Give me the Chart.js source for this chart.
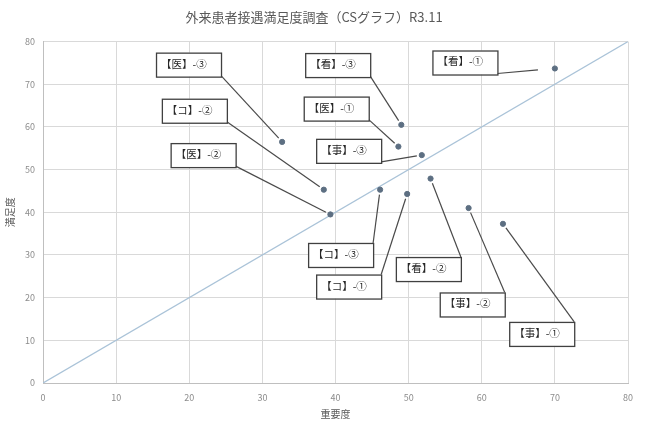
<!DOCTYPE html>
<html>
<head>
<meta charset="utf-8">
<script src="https://cdn.jsdelivr.net/npm/chart.js@4"></script>
<style>
  html, body { margin: 0; padding: 0; background: #ffffff; }
  #wrap { width: 650px; height: 424px; }
</style>
</head>
<body>
<div id="wrap"><canvas id="c" width="650" height="424"></canvas></div>
<script>
// ---- data ----
const categories = ['【事】-①','【事】-②','【事】-③','【医】-①','【医】-②','【医】-③','【看】-①','【看】-②','【看】-③','【コ】-①','【コ】-②','【コ】-③'];
const importance = [62.9, 58.2, 51.8, 48.6, 39.3, 32.7, 70.0, 53.0, 49.0, 49.8, 38.4, 46.1];
const satisfaction = [37.3, 41.0, 53.4, 55.4, 39.5, 56.5, 73.7, 47.9, 60.5, 44.3, 45.3, 45.3];
const refLineX = [0, 80];
const refLineY = [0, 80];
const tickValues = [0, 10, 20, 30, 40, 50, 60, 70, 80];
const chartTitle = '外来患者接遇満足度調査（CSグラフ）R3.11';
const xTitle = '重要度';
const yTitle = '満足度';

// ---- label box placement (data coordinates of box centres) ----
const labelBoxX = [68.2, 58.7, 41.8, 40.1, 21.9, 19.9, 57.7, 52.7, 40.3, 41.8, 20.7, 40.7];
const labelBoxY = [11.5, 18.4, 54.4, 64.3, 53.4, 74.6, 75.1, 26.7, 74.5, 22.6, 63.8, 30.0];
const labelAnchor = ['tr','tr','br','br','br','br','br','tr','br','tr','br','tr'];
const labelGap = [5, 5, 5, 5, 5, 5, 17, 5, 5, 5, 5, 5];

const FONT = '"Noto Sans CJK JP", "Noto Sans", sans-serif';

const labelPlugin = {
  id: 'calloutLabels',
  afterDatasetsDraw(chart) {
    const ctx = chart.ctx;
    const xs = chart.scales.x, ys = chart.scales.y;
    const bw = 65, bh = 24;
    ctx.save();
    for (let i = 0; i < categories.length; i++) {
      const px = xs.getPixelForValue(importance[i]);
      const py = ys.getPixelForValue(satisfaction[i]);
      const cx = xs.getPixelForValue(labelBoxX[i]);
      const cy = ys.getPixelForValue(labelBoxY[i]);
      const l = cx - bw / 2, t = cy - bh / 2;
      const a = labelAnchor[i];
      const sx = a.includes('r') ? l + bw : l;
      const sy = a.includes('b') ? t + bh - 1 : t;
      const dx = px - sx, dy = py - sy;
      const d = Math.hypot(dx, dy);
      const g = labelGap[i];
      const ex = px - dx / d * g, ey = py - dy / d * g;
      ctx.strokeStyle = '#4a4a4a';
      ctx.lineWidth = 1.2;
      ctx.beginPath();
      ctx.moveTo(sx, sy);
      ctx.lineTo(ex, ey);
      ctx.stroke();
      ctx.fillStyle = '#ffffff';
      ctx.fillRect(l, t, bw, bh);
      ctx.strokeStyle = '#404040';
      ctx.lineWidth = 1.3;
      ctx.strokeRect(l + 0.5, t + 0.5, bw, bh);
      ctx.fillStyle = '#262626';
      ctx.font = '10.5px ' + FONT;
      ctx.textAlign = 'left';
      ctx.textBaseline = 'middle';
      ctx.fillText(categories[i], l + 5, t + bh / 2 - 1);
    }
    ctx.restore();
  }
};

const points = importance.map((v, i) => ({ x: v, y: satisfaction[i] }));
const diag = refLineX.map((v, i) => ({ x: v, y: refLineY[i] }));

new Chart(document.getElementById('c'), {
  type: 'scatter',
  data: {
    datasets: [
      {
        label: 'points',
        data: points,
        backgroundColor: '#5d6f82',
        borderColor: '#5d6f82',
        pointRadius: 2.6,
        pointHoverRadius: 2.6,
        order: 1
      },
      {
        label: 'ref',
        data: diag,
        showLine: true,
        borderColor: '#aac3d8',
        borderWidth: 1.3,
        pointRadius: 0,
        order: 2
      }
    ]
  },
  options: {
    responsive: false,
    animation: false,
    devicePixelRatio: 1,
    layout: { padding: { left: 0, right: 22, top: 0, bottom: 0 } },
    plugins: {
      legend: { display: false },
      tooltip: { enabled: false },
      title: {
        display: true,
        text: chartTitle,
        color: '#595959',
        font: { family: FONT, size: 13, weight: 'normal' },
        padding: { top: 9, bottom: 17 }
      }
    },
    scales: {
      x: {
        type: 'linear',
        min: 0, max: 80,
        afterBuildTicks(s) { s.ticks = tickValues.map(v => ({ value: v })); },
        afterFit(s) { s.height = 41; },
        ticks: { color: '#8c8c8c', font: { family: FONT, size: 9 }, padding: 9, maxRotation: 0 },
        grid: { color: '#d9d9d9', drawTicks: false },
        border: { color: '#bfbfbf' },
        title: { display: true, text: xTitle, color: '#595959', font: { family: FONT, size: 10 }, padding: { top: 2, bottom: 4 } }
      },
      y: {
        type: 'linear',
        min: 0, max: 80,
        afterBuildTicks(s) { s.ticks = tickValues.map(v => ({ value: v })); },
        afterFit(s) { s.width = 43; },
        ticks: { color: '#8c8c8c', font: { family: FONT, size: 9 }, padding: 8 },
        grid: { color: '#d9d9d9', drawTicks: false },
        border: { color: '#bfbfbf' },
        title: { display: true, text: yTitle, color: '#595959', font: { family: FONT, size: 10 }, padding: { bottom: 2 } }
      }
    }
  },
  plugins: [labelPlugin]
});
</script>
</body>
</html>
